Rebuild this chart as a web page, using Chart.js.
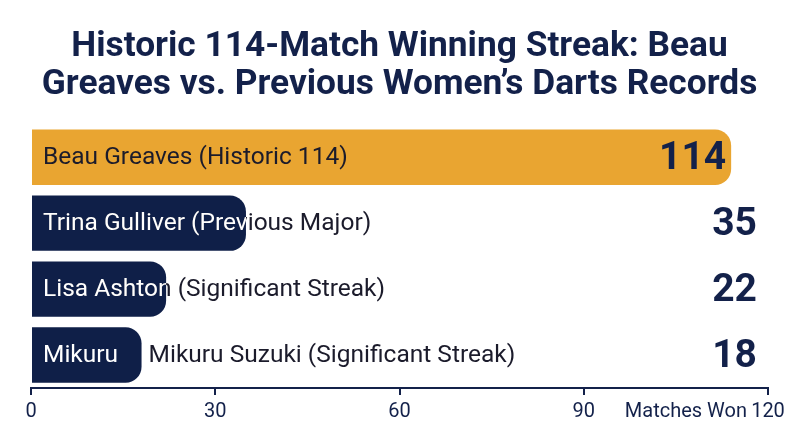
<!DOCTYPE html>
<html>
<head>
<meta charset="utf-8">
<script src="https://cdn.jsdelivr.net/npm/chart.js@4.4.1/dist/chart.umd.min.js"></script>
<style>
  html, body { margin: 0; padding: 0; background: #fff; }
  #wrap { width: 800px; height: 447px; }
</style>
</head>
<body>
<div id="wrap"><canvas id="chart"></canvas></div>
<script>
const players = [
  "Beau Greaves (Historic 114)",
  "Trina Gulliver (Previous Major)",
  "Lisa Ashton (Significant Streak)",
  "Mikuru Suzuki (Significant Streak)",
];
const shortNames = [null, null, null, "Mikuru"];
const wins = [114, 35, 22, 18];
const barColors = ["#e9a531", "#0f1f48", "#0f1f48", "#0f1f48"];
const titleLines = [
  "Historic 114-Match Winning Streak: Beau",
  "Greaves vs. Previous Women\u2019s Darts Records",
];
const axisTitle = "Matches Won";

const NAVY = "#13214a";
const FONT = "Roboto, 'Noto Sans', sans-serif";

const barLabels = {
  id: "barLabels",
  afterDatasetsDraw(chart) {
    const { ctx, chartArea } = chart;
    const meta = chart.getDatasetMeta(0);
    meta.data.forEach((bar, i) => {
      const h = bar.height;
      const top = bar.y - h / 2;
      const left = bar.base;
      const right = bar.x;
      ctx.save();
      ctx.font = "24.5px " + FONT;
      ctx.textBaseline = "middle";
      ctx.textAlign = "left";
      if (i === 0) {
        ctx.fillStyle = "#1b1b2b";
        ctx.fillText(players[i], left + 11, bar.y + 1);
      } else if (shortNames[i]) {
        ctx.fillStyle = "#ffffff";
        ctx.fillText(shortNames[i], left + 11, bar.y + 1);
        ctx.fillStyle = "#1b1b2b";
        ctx.fillText(players[i], right + 7, bar.y + 1);
      } else {
        ctx.fillStyle = "#1b1b2b";
        ctx.fillText(players[i], left + 11, bar.y + 1);
        ctx.beginPath();
        ctx.rect(left, top, right - left, h);
        ctx.clip();
        ctx.fillStyle = "#ffffff";
        ctx.fillText(players[i], left + 11, bar.y + 1);
      }
      ctx.restore();

      ctx.save();
      ctx.font = "bold 39px " + FONT;
      ctx.textBaseline = "middle";
      ctx.textAlign = "right";
      ctx.fillStyle = NAVY;
      const vx = right > chartArea.right - 60 ? right - 5 : chartArea.right - 11;
      ctx.fillText(String(wins[i]), vx, bar.y + 2);
      ctx.restore();
    });

    const xs = chart.scales.x;
    ctx.save();
    ctx.font = "20px " + FONT;
    ctx.fillStyle = NAVY;
    ctx.textAlign = "right";
    ctx.textBaseline = "middle";
    ctx.fillText(axisTitle, xs.getPixelForValue(120) - 21, xs.top + 24);
    ctx.restore();
  },
};

new Chart(document.getElementById("chart"), {
  type: "bar",
  data: {
    labels: players,
    datasets: [
      {
        data: wins,
        backgroundColor: barColors,
        borderRadius: 16,
        borderSkipped: "start",
        barPercentage: 0.84,
        categoryPercentage: 1,
      },
    ],
  },
  options: {
    indexAxis: "y",
    responsive: true,
    maintainAspectRatio: false,
    animation: false,
    layout: {
      padding: { left: 31, right: 32, bottom: 18 },
    },
    scales: {
      x: {
        min: 0,
        max: 120,
        ticks: {
          stepSize: 30,
          color: NAVY,
          font: { family: FONT, size: 20 },
          padding: 5,
        },
        grid: {
          drawOnChartArea: false,
          drawTicks: true,
          tickLength: 7,
          color: NAVY,
          lineWidth: 2,
        },
        border: { color: NAVY, width: 2 },
      },
      y: {
        display: false,
      },
    },
    plugins: {
      legend: { display: false },
      tooltip: { enabled: false },
      title: {
        display: true,
        text: titleLines,
        color: NAVY,
        font: { family: FONT, size: 35.3, weight: "bold", lineHeight: 1.08 },
        padding: { top: 28, bottom: 20 },
      },
    },
  },
  plugins: [barLabels],
});
</script>
</body>
</html>
